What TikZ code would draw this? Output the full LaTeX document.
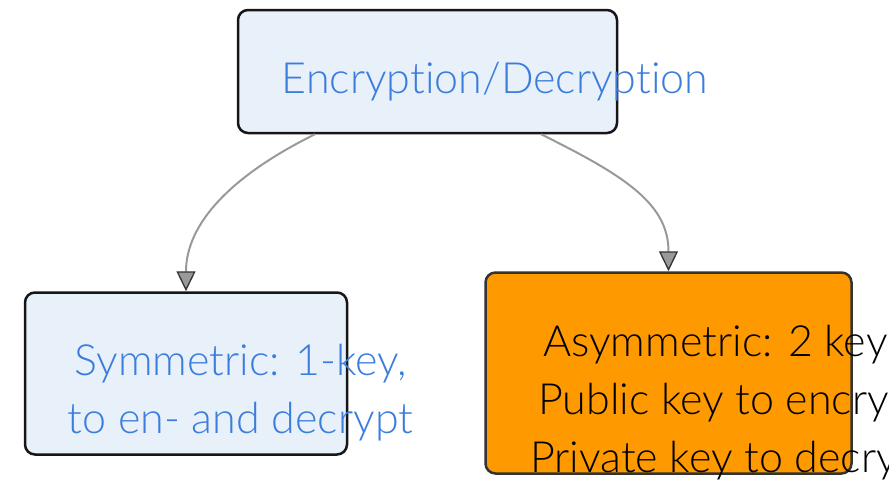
\documentclass[tikz,border=0pt]{standalone}
\usepackage{fontspec}
\IfFontExistsTF{Lato Light}{\setmainfont{Lato Light}[Ligatures=NoCommon]}{\setmainfont{Lato}[Ligatures=NoCommon]}
\usetikzlibrary{arrows.meta,calc}
\definecolor{boxfill}{RGB}{232,240,250}
\definecolor{boxline}{RGB}{22,22,22}
\definecolor{labelblue}{RGB}{59,125,221}
\definecolor{orangefill}{RGB}{255,153,0}
\definecolor{orangeline}{RGB}{51,51,51}
\definecolor{edgegray}{RGB}{153,153,153}
\tikzset{
  boxbase/.style={rectangle, rounded corners=10pt, inner sep=0pt, line width=2.5pt},
  bluebox/.style={boxbase, draw=boxline, fill=boxfill},
  orangebox/.style={boxbase, draw=orangeline, fill=orangefill},
  bluelabel/.style={text=labelblue, font=\fontsize{43}{58}\selectfont, align=center, inner sep=0pt},
  blacklabel/.style={text=black, font=\fontsize{43}{58}\selectfont, inner sep=0pt},
  edge/.style={draw=edgegray, line width=2pt,
    -{Triangle[length=20pt, width=19pt, fill=edgegray, color=orangeline, line width=1.3pt]}},
}
\begin{document}
\begin{tikzpicture}[x=1pt, y=-1pt]
  \useasboundingbox (0,0) rectangle (889,482);

  % boxes
  \node[bluebox, minimum width=379pt, minimum height=123pt] (top) at (427.5,71.5) {};
  \node[bluebox, minimum width=322pt, minimum height=162pt] (sym) at (186,373.5) {};
  \node[orangebox, minimum width=366pt, minimum height=201pt] (asym) at (668.5,373) {};

  % connectors
  \draw[edge] ($(top.south)+(-112.5,0)$) .. controls +(-85,42) and +(0,-67) .. (sym.north);
  \draw[edge] ($(top.south)+(113.5,0)$) .. controls +(85,42) and +(0,-67) .. (asym.north);

  % labels (a multi-line label sits on the baseline of its last line)
  \node[bluelabel, anchor=base] (topText) at (495,93) {Encryption/Decryption};
  \node[bluelabel, anchor=base] (symText) at (240.5,433) {Symmetric: 1-key,\\to en- and decrypt};
  \node[blacklabel, anchor=base west] (asymA) at (543,356) {Asymmetric: 2 keys,};
  \node[blacklabel, anchor=base west] (asymB) at (538,414) {Public key to encrypt,};
  \node[blacklabel, anchor=base west] (asymC) at (530,472) {Private key to decrypt};
\end{tikzpicture}
\end{document}
